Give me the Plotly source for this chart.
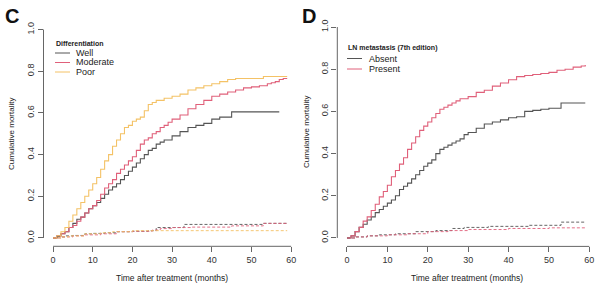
import plotly.graph_objects as go

W, H = 599, 287

# ---------------- Data ----------------
# Panel C: Differentiation
c_well_t = [0,1,2,3,4,5,6,7,8,9,10,11,12,13,14,15,16,17,18,19,20,21,22,23,24,25,26,27,28,30,32,34,36,38,40,42,45,57]
c_well_v = [0,0.01,0.02,0.03,0.05,0.07,0.09,0.10,0.12,0.14,0.155,0.17,0.19,0.21,0.23,0.245,0.26,0.28,0.30,0.32,0.34,0.36,0.38,0.40,0.42,0.43,0.45,0.46,0.47,0.49,0.51,0.53,0.54,0.55,0.57,0.58,0.605,0.605]

c_mod_t = [0,1,2,3,4,5,6,7,8,9,10,11,12,13,14,15,16,17,18,19,20,21,22,23,24,25,26,27,28,29,30,32,34,36,38,40,42,44,46,48,50,52,54,55,56,57,58,59]
c_mod_v = [0,0.01,0.02,0.03,0.05,0.06,0.08,0.10,0.12,0.14,0.155,0.18,0.21,0.24,0.26,0.28,0.31,0.33,0.35,0.37,0.39,0.42,0.45,0.47,0.48,0.50,0.51,0.53,0.54,0.555,0.57,0.59,0.62,0.64,0.66,0.68,0.69,0.70,0.71,0.72,0.725,0.73,0.74,0.745,0.75,0.76,0.765,0.765]

c_poor_t = [0,1,2,3,4,5,6,7,8,9,10,11,12,13,14,15,16,17,18,19,20,21,22,23,24,25,26,28,30,32,34,36,38,40,42,44,46,48,50,53,59]
c_poor_v = [0,0.01,0.03,0.05,0.08,0.11,0.14,0.17,0.20,0.23,0.26,0.29,0.33,0.37,0.40,0.44,0.47,0.50,0.53,0.54,0.56,0.57,0.58,0.61,0.64,0.65,0.66,0.67,0.68,0.69,0.71,0.72,0.73,0.74,0.75,0.76,0.765,0.765,0.765,0.775,0.775]

c_well_oc_t = [0,1,3,5,8,10,13,16,20,24,26,33,53,59]
c_well_oc_v = [0,0.005,0.01,0.012,0.02,0.022,0.025,0.03,0.032,0.035,0.05,0.065,0.07,0.07]
c_mod_oc_t = [0,2,5,8,12,16,20,25,27,30,35,45,53,59]
c_mod_oc_v = [0,0.005,0.01,0.015,0.02,0.03,0.032,0.038,0.045,0.05,0.052,0.058,0.07,0.07]
c_poor_oc_t = [0,2,4,8,12,15,20,59]
c_poor_oc_v = [0,0.005,0.01,0.02,0.025,0.03,0.035,0.035]

# Panel D: LN metastasis
d_abs_t = [0,1,2,3,4,5,6,7,8,9,10,11,12,13,14,15,16,17,18,19,20,21,22,23,24,25,26,27,28,29,30,32,34,36,38,40,42,44,46,48,50,53,59]
d_abs_v = [0,0.01,0.03,0.05,0.065,0.085,0.10,0.12,0.135,0.15,0.165,0.18,0.20,0.23,0.245,0.26,0.28,0.30,0.32,0.34,0.355,0.37,0.40,0.42,0.43,0.44,0.45,0.46,0.47,0.49,0.50,0.52,0.54,0.55,0.56,0.57,0.575,0.60,0.605,0.61,0.615,0.64,0.64]

d_pre_t = [0,1,2,3,4,5,6,7,8,9,10,11,12,13,14,15,16,17,18,19,20,21,22,23,24,25,26,27,28,30,32,34,36,38,40,42,44,46,48,50,52,54,56,58,59]
d_pre_v = [0,0.01,0.03,0.05,0.08,0.10,0.13,0.16,0.195,0.22,0.25,0.29,0.32,0.35,0.38,0.42,0.45,0.48,0.51,0.53,0.55,0.57,0.59,0.61,0.62,0.63,0.64,0.65,0.66,0.67,0.69,0.70,0.72,0.735,0.75,0.765,0.77,0.775,0.78,0.785,0.795,0.80,0.81,0.815,0.82]

d_abs_oc_t = [0,2,5,8,12,17,22,26,29,35,45,53,59]
d_abs_oc_v = [0,0.005,0.01,0.015,0.02,0.03,0.035,0.045,0.05,0.055,0.06,0.075,0.075]
d_pre_oc_t = [0,2,5,10,15,20,25,30,40,50,59]
d_pre_oc_v = [0,0.005,0.01,0.015,0.02,0.03,0.035,0.04,0.045,0.048,0.048]

x_ticks = [0, 10, 20, 30, 40, 50, 60]
y_ticks = [0.0, 0.2, 0.4, 0.6, 0.8, 1.0]

c_labels = ["Well", "Moderate", "Poor"]
d_labels = ["Absent", "Present"]

# ---------------- Styles ----------------
GRAY = "#555555"
RED = "#E0607A"
YEL = "#F4C266"
FONT = "Liberation Sans, Arial, sans-serif"

def px(x):
    return x / W

def py(y):
    return 1 - y / H

fig = go.Figure()

def step(t, v, color, xa, ya, dash="solid", width=1.1):
    fig.add_trace(go.Scatter(x=t, y=v, mode="lines", line=dict(color=color, width=width, dash=dash, shape="hv"),
                             xaxis=xa, yaxis=ya, showlegend=False, hoverinfo="skip"))

step(c_well_t, c_well_v, GRAY, "x", "y")
step(c_mod_t, c_mod_v, RED, "x", "y")
step(c_poor_t, c_poor_v, YEL, "x", "y")
step(c_well_oc_t, c_well_oc_v, GRAY, "x", "y", dash="3px,2px", width=0.9)
step(c_mod_oc_t, c_mod_oc_v, RED, "x", "y", dash="3px,2px", width=0.9)
step(c_poor_oc_t, c_poor_oc_v, YEL, "x", "y", dash="3px,2px", width=0.9)

step(d_abs_t, d_abs_v, GRAY, "x2", "y2")
step(d_pre_t, d_pre_v, RED, "x2", "y2")
step(d_abs_oc_t, d_abs_oc_v, GRAY, "x2", "y2", dash="3px,2px", width=0.9)
step(d_pre_oc_t, d_pre_oc_v, RED, "x2", "y2", dash="3px,2px", width=0.9)

axis_common = dict(showgrid=False, zeroline=False, showline=False, ticks="outside", ticklen=5,
                   tickcolor="#666", tickwidth=1, tickfont=dict(size=9, color="#333", family=FONT))

fig.update_layout(
    width=W, height=H, margin=dict(l=0, r=0, t=0, b=0),
    paper_bgcolor="white", plot_bgcolor="white",
    xaxis=dict(domain=[px(43.5), px(300.7)], range=[-2.4, 62.4], tickvals=x_ticks, anchor="y", **axis_common),
    yaxis=dict(domain=[py(246.3), py(21.2)], range=[-0.04, 1.04], tickvals=y_ticks, tickformat=".1f",
               tickangle=-90, anchor="x", **axis_common),
    xaxis2=dict(domain=[px(337.3), 1.0], range=[-2.4, 62.4], tickvals=x_ticks, anchor="y2", **axis_common),
    yaxis2=dict(domain=[py(246.4), py(18.6)], range=[-0.04, 1.04], tickvals=y_ticks, tickformat=".1f",
                tickangle=-90, anchor="x2", **axis_common),
)

# Axis lines (R style: only spanning the tick range)
for xa, ya in [("x", "y"), ("x2", "y2")]:
    fig.add_shape(type="line", xref=xa, yref=ya + " domain", x0=0, x1=60, y0=0, y1=0,
                  line=dict(color="#666", width=1))
    fig.add_shape(type="line", xref=xa + " domain", yref=ya, x0=0, x1=0, y0=0, y1=1,
                  line=dict(color="#666", width=1))

ann = []
def text(x, y, s, size=9, bold=False, xanchor="left", angle=0, color="#222"):
    ann.append(dict(x=px(x), y=py(y), xref="paper", yref="paper", text=("<b>%s</b>" % s) if bold else s,
                    showarrow=False, xanchor=xanchor, yanchor="middle", textangle=angle,
                    font=dict(size=size, family=FONT, color=color)))

# Panel letters
text(12, 16, "C", size=20, bold=True, xanchor="center", color="#111")
text(309, 16, "D", size=20, bold=True, xanchor="center", color="#111")

# Axis titles
text(172, 278, "Time after treatment (months)", size=8.5, xanchor="center")
text(467, 278, "Time after treatment (months)", size=8.5, xanchor="center")
text(12, 134, "Cumulative mortality", size=8, xanchor="center", angle=-90)
text(306, 132, "Cumulative mortality", size=8, xanchor="center", angle=-90)

# Legend C
text(54, 43, "Differentiation", size=7, bold=True)
for lab, col, yy in zip(c_labels, [GRAY, RED, YEL], [53, 62.5, 72]):
    fig.add_shape(type="line", xref="paper", yref="paper", x0=px(55), x1=px(70), y0=py(yy), y1=py(yy),
                  line=dict(color=col, width=1))
    text(74, yy, lab, size=9)

# Legend D
text(346, 48, "LN metastasis (7th edition)", size=7, bold=True)
for lab, col, yy in zip(d_labels, [GRAY, RED], [58.5, 69]):
    fig.add_shape(type="line", xref="paper", yref="paper", x0=px(347), x1=px(362), y0=py(yy), y1=py(yy),
                  line=dict(color=col, width=1))
    text(367, yy, lab, size=9)

fig.update_layout(annotations=ann)
fig.write_html("out.html", config={"displayModeBar": False, "staticPlot": True},
               post_script="document.body.style.margin='0';document.body.style.overflow='hidden';")
